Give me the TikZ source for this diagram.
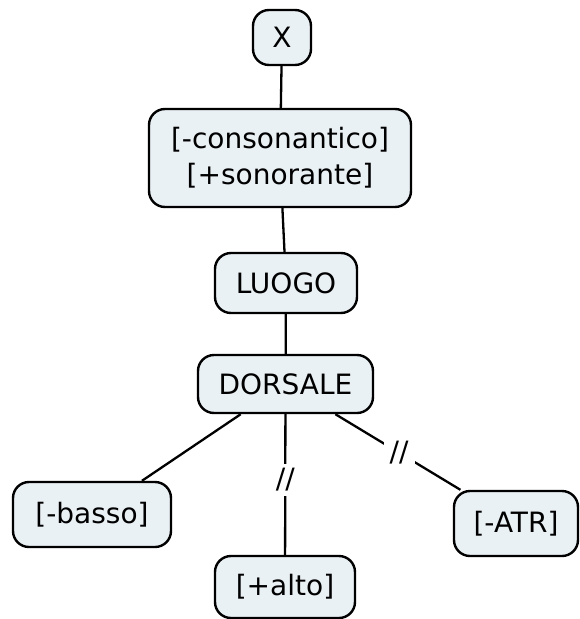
\documentclass[tikz,border=0pt]{standalone}
\usepackage{fontspec}
\setmainfont{DejaVu Sans}
\definecolor{boxfill}{RGB}{234,241,245}
\begin{document}
\begin{tikzpicture}[x=1pt,y=-1pt,
  feat/.style={draw=black, line width=2.4pt, fill=boxfill, rounded corners=16pt,
               inner sep=0pt, align=center, font=\fontsize{28}{36}\selectfont},
  link/.style={line width=2.3pt},
  cut/.style={fill=white, inner xsep=6pt, inner ysep=4.5pt,
              font=\fontsize{28}{34}\selectfont}]
\useasboundingbox (0,0) rectangle (579,619);

% feature tree
\node[feat, minimum width=58pt,  minimum height=55pt] (x)     at (282,37.5)  {X};
\node[feat, minimum width=262pt, minimum height=98pt] (cons)  at (280,158)   {[-consonantico]\\{}[+sonorante]};
\node[feat, minimum width=142pt, minimum height=60pt] (luogo) at (286,283)   {LUOGO};
\node[feat, minimum width=175pt, minimum height=58pt] (dors)  at (285.5,384) {DORSALE};
\node[feat, minimum width=158pt, minimum height=65pt] (basso) at (92,514.5)  {[-basso]};
\node[feat, minimum width=140pt, minimum height=62pt] (alto)  at (285,587)   {[+alto]};
\node[feat, minimum width=124pt, minimum height=65pt] (atr)   at (516,523.5) {[-ATR]};

% association lines; // marks a delinked line
\draw[link] (x) -- (cons);
\draw[link] (cons) -- (luogo);
\draw[link] (luogo) -- (dors);
\draw[link] (dors) -- (basso);
\draw[link] (dors) -- node[cut, pos=0.468] (cutalto) {//} (alto);
\draw[link] (dors) -- node[cut, pos=0.51] (cutatr) {//} (atr);
\end{tikzpicture}
\end{document}
